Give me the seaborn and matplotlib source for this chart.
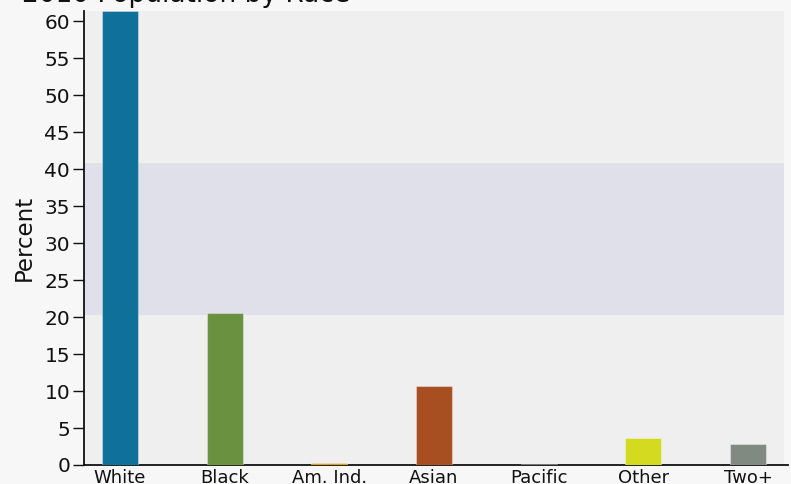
import matplotlib
matplotlib.use("Agg")
import matplotlib.pyplot as plt
import seaborn as sns
import pandas as pd

# Share of 2010 population by race (percent)
races = ["White", "Black", "Am. Ind.", "Asian", "Pacific", "Other", "Two+"]
percent = [61.4, 20.5, 0.3, 10.7, 0.1, 3.65, 2.85]
bar_colors = ["#0f7099", "#6a9140", "#d69a12", "#a84f22", "#2b3a2b", "#d3da1f", "#818a81"]

# Shaded reference range on the y axis
band_low, band_high = 20.3, 40.8
y_ticks = list(range(0, 61, 5))

df = pd.DataFrame({"race": races, "percent": percent})

sns.set_theme(style="white")
plt.rcParams["font.family"] = ["DejaVu Sans"]

W, H = 791, 484
fig = plt.figure(figsize=(W / 100, H / 100), dpi=100, facecolor="#f7f7f7")
ax = fig.add_axes([84 / W, (H - 465) / H, (784 - 84) / W, (465 - 11) / H])
ax.set_facecolor("#efefef")

ax.axhspan(band_low, band_high, color="#e0e0ea", zorder=0, lw=0)

sns.barplot(data=df, x="race", y="percent", hue="race", palette=bar_colors,
            order=races, hue_order=races, dodge=False, legend=False,
            width=0.344, saturation=1, ax=ax, zorder=3,
            edgecolor=(1, 1, 1, 0.35), linewidth=0.8)

ax.set_xlim(-0.344, 6.344)
ax.set_ylim(0, max(percent))
ax.set_yticks(y_ticks)
ax.set_yticklabels([str(t) for t in y_ticks], fontsize=14.5, color="#111111")
ax.tick_params(axis="y", direction="out", length=8, width=1, color="#111111", pad=2, left=True)
ax.tick_params(axis="x", length=0, labelsize=13, labelcolor="#111111", pad=3)

ax.set_xlabel("")
ax.set_ylabel("Percent", fontsize=16.5, color="#111111", labelpad=6)

for side in ["top", "right"]:
    ax.spines[side].set_visible(False)
for side in ["left", "bottom"]:
    ax.spines[side].set_color("#111111")
    ax.spines[side].set_linewidth(1.3)
    ax.spines[side].set_zorder(1)
ax.spines["bottom"].set_bounds(-0.344, 6.38)

fig.text(22 / W, 1 - 2.2 / H, "2010 Population by Race", fontsize=19,
         color="#111111", ha="left", va="baseline")

fig.savefig("out.png", dpi=100, facecolor=fig.get_facecolor())
